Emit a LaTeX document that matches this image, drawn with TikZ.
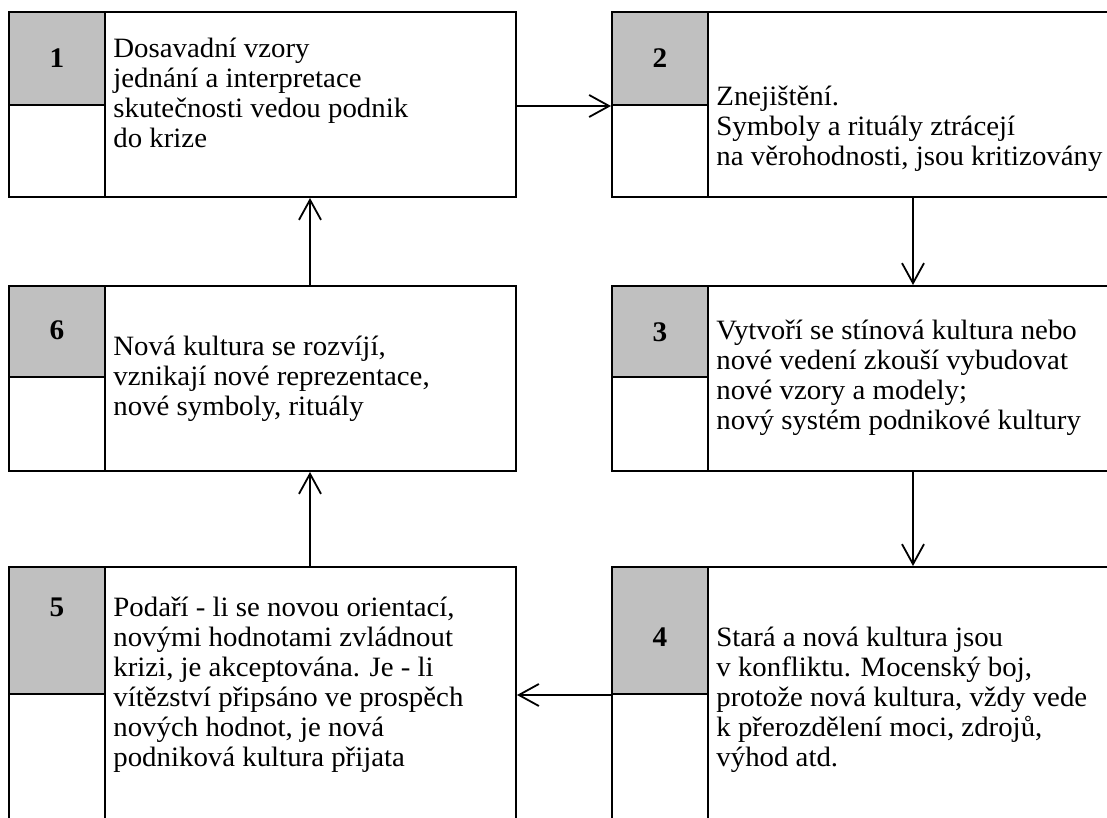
\documentclass[tikz,border=0pt]{standalone}
\usepackage{fontspec}
\setmainfont[FakeStretch=1.03]{Liberation Serif}
\usetikzlibrary{arrows.meta,fit}
\definecolor{cellgrey}{RGB}{192,192,192}
\begin{document}
\begin{tikzpicture}[x=0.5pt,y=-0.5pt,
  boxframe/.style={draw,line width=1pt,inner sep=0pt},
  greycell/.style={draw,fill=cellgrey,line width=1pt,inner sep=0pt},
  whitecell/.style={draw,fill=white,line width=1pt,inner sep=0pt},
  numlabel/.style={font=\fontsize{14.2}{15}\selectfont\bfseries,inner sep=0pt},
  bodytext/.style={font=\fontsize{14}{15}\selectfont,align=left,anchor=base west,inner sep=0pt},
  link/.style={line width=0.9pt,-{Straight Barb[length=10pt,width=11pt]}}]
\useasboundingbox (0,0) rectangle (1107,818);
\clip (0,0) rectangle (1107,818);
% boxes
\node[boxframe,fit={(9,12) (516,197)}] (b1) {};
\node[greycell,fit={(9,12) (105,105)}] (g1) {};
\node[whitecell,fit={(9,105) (105,197)}] (c1) {};
\node[boxframe,fit={(612,12) (1125,197)}] (b2) {};
\node[greycell,fit={(612,12) (708,105)}] (g2) {};
\node[whitecell,fit={(612,105) (708,197)}] (c2) {};
\node[boxframe,fit={(9,286) (516,471)}] (b6) {};
\node[greycell,fit={(9,286) (105,377)}] (g6) {};
\node[whitecell,fit={(9,377) (105,471)}] (c6) {};
\node[boxframe,fit={(612,286) (1125,471)}] (b3) {};
\node[greycell,fit={(612,286) (708,377)}] (g3) {};
\node[whitecell,fit={(612,377) (708,471)}] (c3) {};
\node[boxframe,fit={(9,567) (516,840)}] (b5) {};
\node[greycell,fit={(9,567) (105,694)}] (g5) {};
\node[whitecell,fit={(9,694) (105,840)}] (c5) {};
\node[boxframe,fit={(612,567) (1125,840)}] (b4) {};
\node[greycell,fit={(612,567) (708,694)}] (g4) {};
\node[whitecell,fit={(612,694) (708,840)}] (c4) {};
% numbers
\node[numlabel] (n1) at (57,58) {1};
\node[numlabel] (n2) at (660,58) {2};
\node[numlabel] (n6) at (57,330) {6};
\node[numlabel] (n3) at (660,332) {3};
\node[numlabel] (n5) at (57,607) {5};
\node[numlabel] (n4) at (660,637) {4};
% texts (anchored at the baseline of the last line)
\node[bodytext] (t1) at (113,148) {Dosavadní vzory\\jednání a interpretace\\skutečnosti vedou podnik\\do krize};
\node[bodytext] (t2) at (716,166) {Znejištění.\\Symboly a rituály ztrácejí\\na věrohodnosti, jsou kritizovány};
\node[bodytext] (t6) at (113,415) {Nová kultura se rozvíjí,\\vznikají nové reprezentace,\\nové symboly, rituály};
\node[bodytext] (t3) at (716,429) {Vytvoří se stínová kultura nebo\\nové vedení zkouší vybudovat\\nové vzory a modely;\\nový systém podnikové kultury};
\node[bodytext] (t5) at (113,766) {Podaří - li se novou orientací,\\novými hodnotami zvládnout\\krizi, je akceptována. Je - li\\vítězství připsáno ve prospěch\\nových hodnot, je nová\\podniková kultura přijata};
\node[bodytext] (t4) at (716,766) {Stará a nová kultura jsou\\v konfliktu. Mocenský boj,\\protože nová kultura, vždy vede\\k přerozdělení moci, zdrojů,\\výhod atd.};
% connectors
\coordinate (lx) at (310,0);
\coordinate (rx) at (913,0);
\draw[link] (g1.south -| b1.east) -- (g1.south -| b2.west);
\draw[link] (b2.south -| rx) -- (b3.north -| rx);
\draw[link] (b3.south -| rx) -- (b4.north -| rx);
\draw[link] (g4.south -| b4.west) -- (g4.south -| b5.east);
\draw[link] (b5.north -| lx) -- (b6.south -| lx);
\draw[link] (b6.north -| lx) -- (b1.south -| lx);
\end{tikzpicture}
\end{document}
